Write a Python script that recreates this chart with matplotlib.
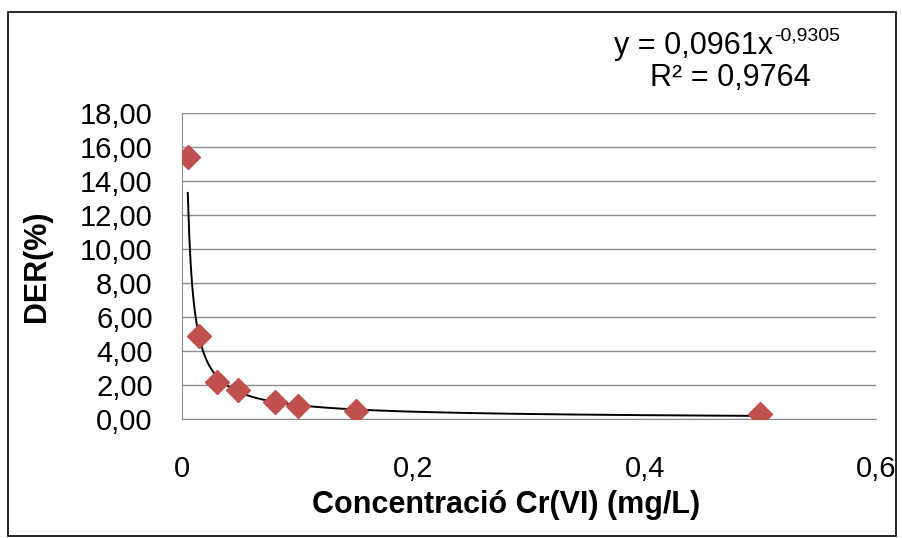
import numpy as np
import matplotlib
matplotlib.use("Agg")
import matplotlib.pyplot as plt
from matplotlib.patches import Rectangle

# Cr(VI) concentration (mg/L) vs DER (%)
conc = [0.005, 0.015, 0.03, 0.048, 0.08, 0.1, 0.15, 0.5]
der = [15.4, 4.9, 2.2, 1.7, 1.0, 0.75, 0.5, 0.3]

# power trendline coefficients as shown on the chart
coef_a = 0.0961
coef_b = -0.9305
r2 = 0.9764

yticks = [0, 2, 4, 6, 8, 10, 12, 14, 16, 18]
xticks = [0, 0.2, 0.4, 0.6]

plt.rcParams["font.family"] = ["Liberation Sans", "DejaVu Sans"]

fig = plt.figure(figsize=(9.02, 5.38), dpi=100)
fig.patches.append(Rectangle((8 / 902, 1 - 536 / 538), 888 / 902, 524 / 538,
                             transform=fig.transFigure, fill=False,
                             edgecolor="black", lw=1.2))
ax = fig.add_axes([182 / 902, 1 - 419 / 538, 694 / 902, 306 / 538])

xt = np.linspace(min(conc), max(conc), 400)
ax.plot(xt, coef_a * xt ** coef_b, color="black", lw=1.4, zorder=2)
ax.plot(conc, der, linestyle="none", marker="D", markersize=12,
        color="#C0504D", zorder=3)

ax.set_xlim(0, 0.6)
ax.set_ylim(0, 18)
ax.set_yticks(yticks)
ax.set_xticks(xticks)
ax.set_yticklabels([f"{v:.2f}".replace(".", ",") for v in yticks], fontsize=21)
ax.set_xticklabels(["0", "0,2", "0,4", "0,6"], fontsize=21)
ax.tick_params(axis="y", length=0, pad=21)
ax.tick_params(axis="x", length=0, pad=26)
ax.grid(axis="y", color="#8c8c8c", lw=1)
ax.set_axisbelow(True)
for s in ["top", "right"]:
    ax.spines[s].set_visible(False)
for s in ["left", "bottom"]:
    ax.spines[s].set_color("#8c8c8c")

ax.set_ylabel("DER(%)", fontsize=22, fontweight="bold", va="center")
ax.yaxis.set_label_coords((37 - 182) / 694, 0.5)
ax.set_xlabel("Concentració Cr(VI) (mg/L)", fontsize=22, fontweight="bold",
              va="center")
ax.xaxis.set_label_coords(0.467, (419 - 505) / 306)

eq = fig.text(773 / 902, 1 - 46 / 538, f"y = {coef_a}x".replace(".", ","),
              ha="right", va="center", fontsize=22)
fig.text(774 / 902, 1 - 36 / 538, f"{coef_b}".replace(".", ","),
         ha="left", va="center", fontsize=14)
fig.text(730 / 902, 1 - 78 / 538, f"R² = {r2}".replace(".", ","),
         ha="center", va="center", fontsize=22)

fig.savefig("out.png", dpi=100)
